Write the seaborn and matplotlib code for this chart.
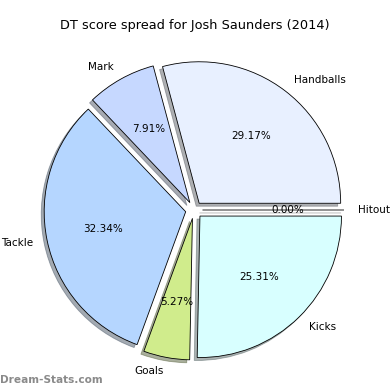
import matplotlib
matplotlib.use("Agg")
import matplotlib.pyplot as plt
import seaborn as sns

sns.set_theme(style="white")
plt.rcParams['font.family'] = ['DejaVu Sans']

labels = ["Handballs", "Mark", "Tackle", "Goals", "Kicks", "Hitout"]
values = [29.17, 7.91, 32.34, 5.27, 25.31, 0.0]
colors = ["#e8f0ff", "#c6d8ff", "#b5d6ff", "#d0ec8c", "#d8ffff", "#ffffff"]
explode = [0.06] * len(values)

fig = plt.figure(figsize=(3.9, 3.9), dpi=100)
W = 390.0
cx, cy, r = 194.0, 390.0 - 210.0, 141.5
half = 1.25 * r
ax = fig.add_axes([(cx - half) / W, (cy - half) / W, 2 * half / W, 2 * half / W])

wedges, texts, autotexts = ax.pie(
    values, labels=labels, colors=colors, explode=explode, startangle=0,
    counterclock=True, autopct="%1.2f%%",
    shadow={"ox": -0.015, "oy": -0.015, "shade": 0.6}, radius=1,
    wedgeprops=dict(edgecolor="black", linewidth=0.6),
    textprops=dict(fontsize=7.5, color="black"))
ax.set_xlim(-1.25, 1.25)
ax.set_ylim(-1.25, 1.25)
ax.set_aspect("equal")

fig.text(0.5, 1 - 25 / W, "DT score spread for Josh Saunders (2014)",
         ha="center", va="center", fontsize=9.3, color="black")
fig.text(0.0, 10 / W, "Dream-Stats.com", ha="left", va="center",
         fontsize=7.6, color="#8a8a8a", fontweight="bold")

fig.savefig("out.png", dpi=100)
